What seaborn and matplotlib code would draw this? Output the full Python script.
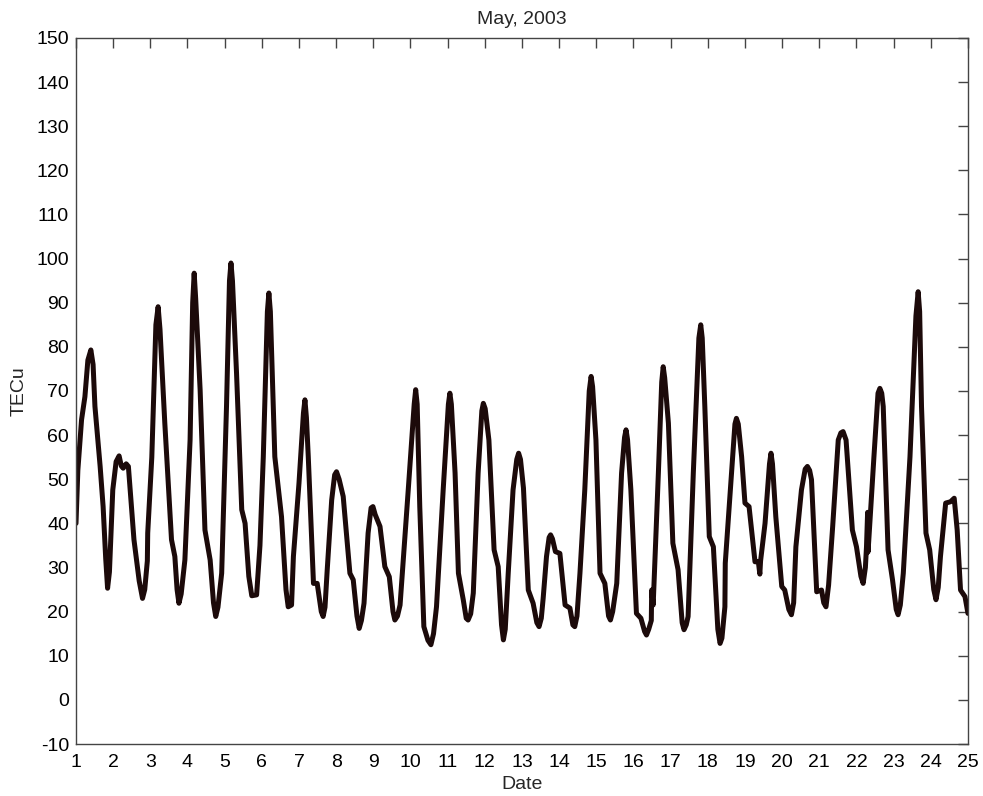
import pandas as pd
import matplotlib
matplotlib.use("Agg")
import matplotlib.pyplot as plt
import seaborn as sns

# Values: day of month (fractional) and TEC (TECu)
day = [
    1.00, 1.05, 1.15, 1.24, 1.32, 1.40, 1.46, 1.51, 1.65, 1.73, 1.80, 1.85, 1.90,
    1.99, 2.08, 2.16, 2.22, 2.27, 2.35, 2.41, 2.56, 2.70, 2.79, 2.85, 2.92, 2.93,
    3.04, 3.15, 3.21, 3.26, 3.39, 3.57, 3.66, 3.72, 3.77, 3.83, 3.93,
    4.07, 4.14, 4.18, 4.22, 4.34, 4.47, 4.61, 4.70, 4.76, 4.82, 4.92,
    5.05, 5.13, 5.17, 5.21, 5.32, 5.46, 5.55, 5.65, 5.73, 5.86, 5.95,
    6.04, 6.15, 6.19, 6.23, 6.35, 6.53, 6.65, 6.71, 6.80, 6.85,
    7.00, 7.12, 7.16, 7.20, 7.25, 7.39, 7.49, 7.60, 7.65, 7.70, 7.76, 7.88,
    7.96, 8.01, 8.08, 8.19, 8.37, 8.46, 8.56, 8.62, 8.68, 8.75, 8.86,
    8.94, 8.99, 9.05, 9.18, 9.31, 9.43, 9.53, 9.58, 9.65, 9.72, 9.94,
    10.10, 10.14, 10.18, 10.25, 10.36, 10.47, 10.55, 10.62, 10.70, 10.88,
    11.02, 11.06, 11.10, 11.20, 11.29, 11.42, 11.50, 11.55, 11.62, 11.69, 11.82,
    11.92, 11.96, 12.01, 12.11, 12.25, 12.36, 12.45, 12.50, 12.55, 12.63, 12.76,
    12.86, 12.91, 12.96, 13.04, 13.17, 13.30, 13.40, 13.46, 13.52, 13.57, 13.66,
    13.73, 13.77, 13.82, 13.90, 14.02, 14.16, 14.29, 14.37, 14.42, 14.48, 14.56, 14.69,
    14.81, 14.86, 14.90, 14.99, 15.10, 15.23, 15.33, 15.38, 15.44, 15.55, 15.68,
    15.76, 15.80, 15.84, 15.93, 16.08, 16.20, 16.30, 16.35, 16.41, 16.48, 16.49, 16.53, 16.67,
    16.76, 16.80, 16.84, 16.94, 17.06, 17.20, 17.31, 17.36, 17.42, 17.47, 17.61,
    17.76, 17.81, 17.85, 17.92, 18.04, 18.15, 18.27, 18.33, 18.38, 18.46, 18.47, 18.64,
    18.73, 18.77, 18.82, 18.91, 19.00, 19.11, 19.27, 19.36, 19.40, 19.42, 19.54,
    19.66, 19.70, 19.74, 19.83, 19.99, 20.07, 20.18, 20.25, 20.31, 20.37, 20.52,
    20.62, 20.68, 20.74, 20.79, 20.93, 21.06, 21.12, 21.18, 21.25, 21.36, 21.51,
    21.58, 21.64, 21.72, 21.89, 22.00, 22.12, 22.18, 22.24, 22.27, 22.30, 22.31, 22.33, 22.47,
    22.58, 22.63, 22.68, 22.72, 22.85, 22.97, 23.07, 23.12, 23.18, 23.26, 23.44,
    23.60, 23.66, 23.70, 23.75, 23.87, 23.97, 24.08, 24.14, 24.20, 24.26, 24.40,
    24.53, 24.63, 24.71, 24.80, 24.92, 25.00,
]
tec = [
    40.0, 52.0, 63.5, 68.7, 77.0, 79.3, 76.0, 66.5, 52.9, 43.8, 32.0, 25.3, 29.0,
    47.6, 54.0, 55.3, 53.0, 52.5, 53.5, 52.9, 36.3, 27.0, 23.0, 25.0, 31.5, 37.8,
    55.0, 85.0, 89.1, 84.0, 62.7, 36.3, 32.5, 25.0, 21.9, 24.0, 31.7,
    58.9, 90.0, 96.7, 91.0, 70.3, 38.5, 31.7, 22.0, 18.9, 21.0, 28.7,
    66.5, 95.0, 99.0, 95.0, 74.0, 43.1, 40.0, 28.0, 23.6, 23.8, 35.0,
    55.1, 88.0, 92.2, 88.0, 55.1, 41.5, 25.0, 21.1, 21.5, 32.5,
    49.1, 65.0, 68.0, 64.0, 55.1, 26.4, 26.4, 20.0, 18.9, 21.0, 29.5, 45.3,
    51.0, 51.7, 50.0, 46.1, 28.7, 27.2, 19.0, 16.2, 18.0, 21.9, 37.8,
    43.5, 43.8, 42.0, 39.3, 30.2, 27.9, 20.0, 18.1, 19.0, 21.5, 47.6,
    67.0, 70.3, 67.0, 43.8, 16.6, 13.5, 12.5, 15.0, 21.1, 47.6,
    67.0, 69.5, 67.0, 51.4, 28.7, 22.7, 18.5, 18.1, 19.5, 24.2, 51.4,
    65.5, 67.2, 66.0, 58.9, 34.0, 30.2, 17.0, 13.6, 16.0, 28.7, 47.6,
    54.5, 55.9, 54.5, 48.0, 24.9, 21.9, 17.5, 16.6, 18.5, 23.0, 32.5,
    36.8, 37.4, 36.5, 33.6, 33.2, 21.5, 20.8, 17.0, 16.6, 19.0, 28.7, 47.6,
    70.0, 73.3, 71.0, 58.9, 28.7, 26.4, 19.0, 18.1, 20.0, 26.4, 51.4,
    59.5, 61.2, 59.0, 47.6, 19.6, 18.5, 15.5, 14.7, 16.0, 18.0, 24.9, 21.5, 51.4,
    72.0, 75.5, 73.0, 62.7, 35.5, 29.5, 17.5, 15.9, 17.0, 18.9, 51.4,
    82.0, 85.0, 82.0, 66.5, 37.0, 34.7, 16.0, 12.8, 14.0, 21.1, 31.0, 51.4,
    62.5, 63.8, 62.5, 55.1, 44.6, 43.8, 31.3, 31.3, 28.5, 31.5, 40.0,
    53.5, 55.9, 53.5, 41.5, 25.7, 24.9, 20.5, 19.3, 22.0, 34.7, 47.6,
    52.3, 52.9, 52.0, 49.9, 24.5, 24.9, 22.0, 21.1, 26.0, 39.3, 58.9,
    60.5, 60.8, 58.9, 38.5, 34.7, 28.0, 26.4, 30.0, 34.7, 42.5, 33.5, 36.0, 55.1,
    69.5, 70.6, 69.5, 66.5, 34.0, 27.2, 20.5, 19.3, 21.5, 28.7, 55.1,
    87.0, 92.5, 88.0, 66.5, 37.8, 34.0, 25.0, 22.7, 25.5, 32.5, 44.6,
    44.9, 45.7, 38.5, 24.9, 23.4, 19.6,
]

x_ticks = list(range(1, 26))
y_ticks = list(range(-10, 151, 10))

df = pd.DataFrame({"Date": day, "TECu": tec})

sns.set_style("white")
plt.rcParams["font.family"] = ["Liberation Sans", "DejaVu Sans"]
plt.rcParams["axes.unicode_minus"] = False

fig = plt.figure(figsize=(9.83, 7.96), dpi=100)
ax = fig.add_axes([0.0773, 0.0653, 0.9074, 0.887])

sns.lineplot(data=df, x="Date", y="TECu", ax=ax, color="#1c0a0a",
             linewidth=3.6, sort=False, estimator=None)
ax.lines[0].set_solid_joinstyle("round")
ax.lines[0].set_solid_capstyle("round")

ax.set_xlim(1, 25)
ax.set_ylim(-10, 150)
ax.set_xticks(x_ticks)
ax.set_yticks(y_ticks)
ax.tick_params(axis="both", which="both", direction="in", length=7, width=1,
               color="#444444", labelsize=14, top=True, right=True,
               labelcolor="black")
ax.tick_params(axis="x", pad=7)
ax.tick_params(axis="y", pad=5)
for s in ax.spines.values():
    s.set_visible(True)
    s.set_color("#444444")
    s.set_linewidth(1)

ax.set_title("May, 2003", fontsize=14, pad=10)
ax.set_xlabel("Date", fontsize=14, labelpad=4)
ax.set_ylabel("TECu", fontsize=14, labelpad=6)

fig.savefig("out.png", dpi=100)
